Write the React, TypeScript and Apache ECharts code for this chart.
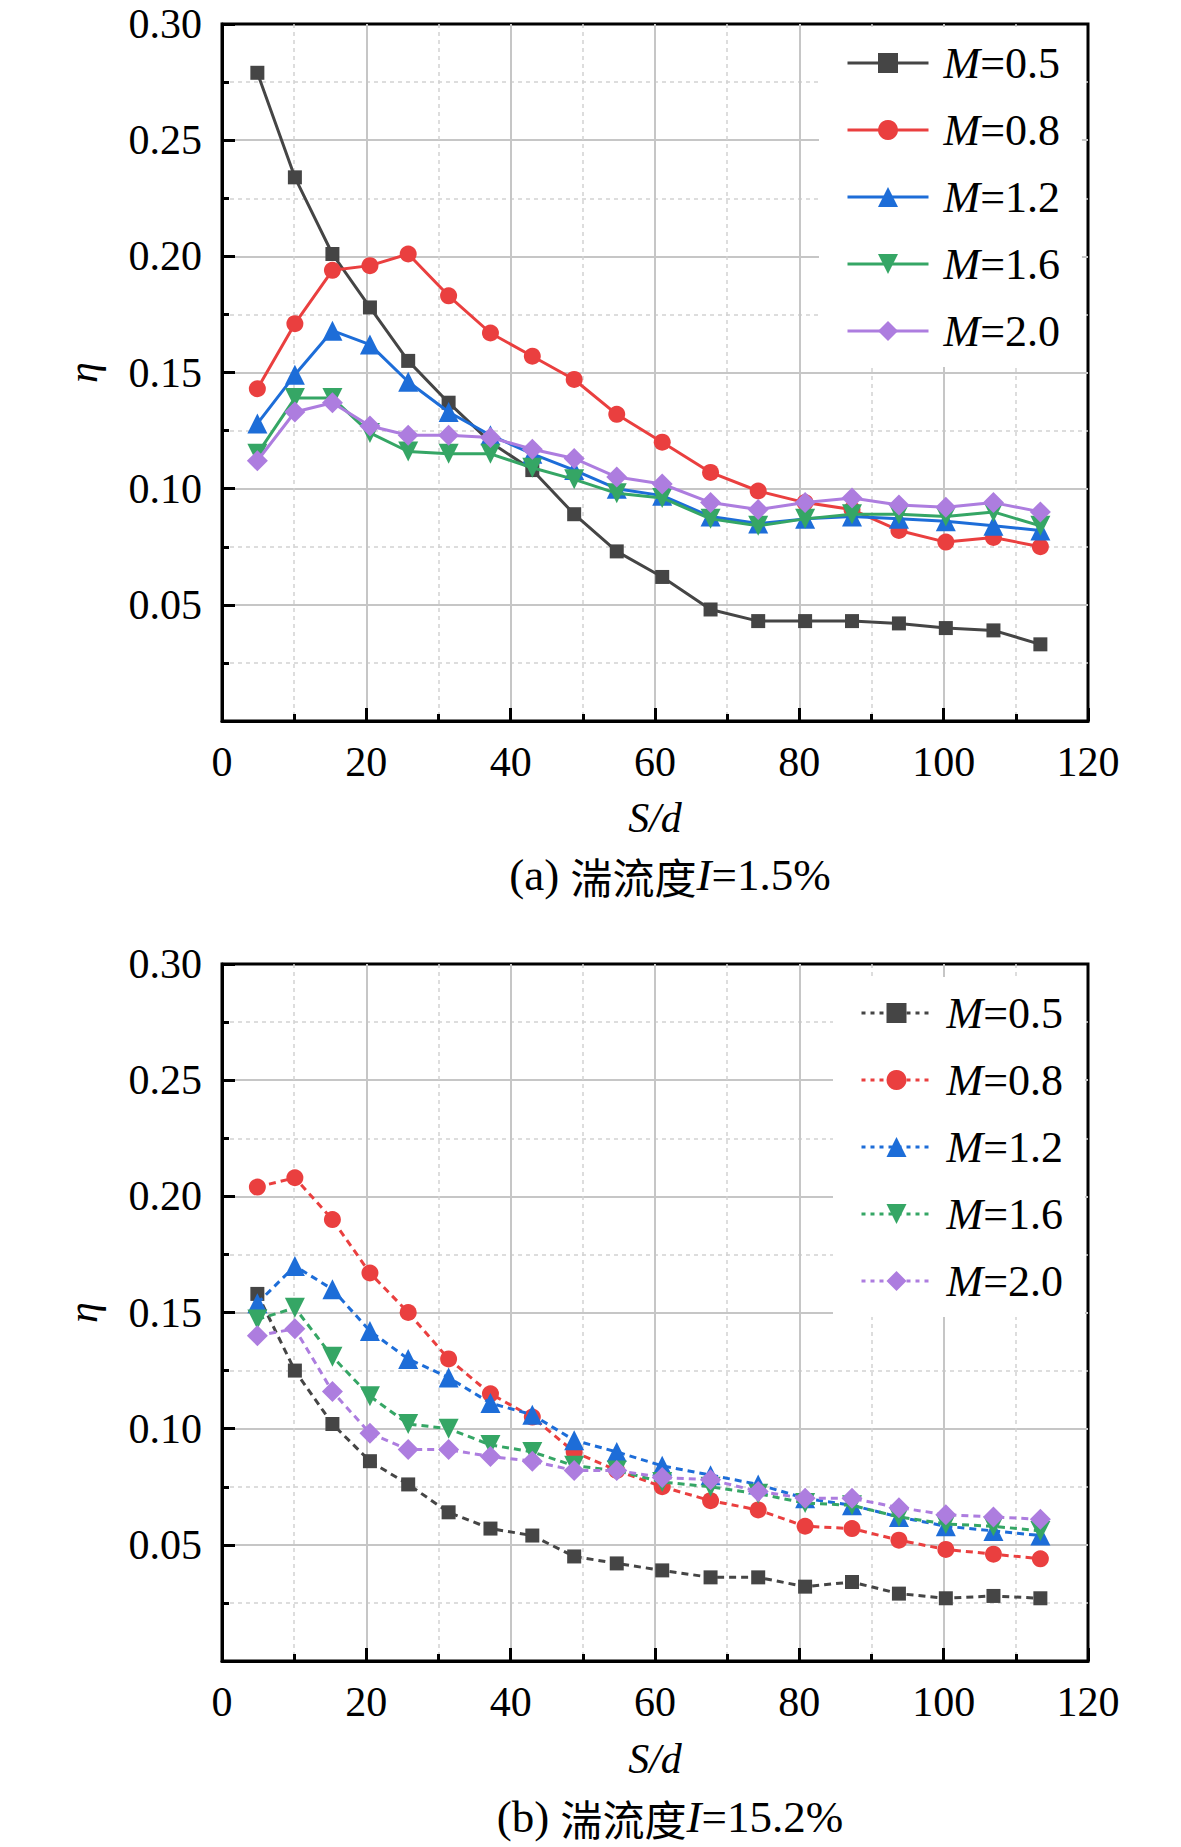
import React, { useEffect, useRef } from "react";
import * as echarts from "echarts";

// S/d positions (shared by both panels)
const SD = [4.9, 10.1, 15.3, 20.5, 25.8, 31.4, 37.2, 43.0, 48.8, 54.7, 61.0, 67.7, 74.3, 80.8, 87.3, 93.8, 100.3, 106.9, 113.4];

const M_VALUES = ["0.5", "0.8", "1.2", "1.6", "2.0"];

// Panel (a): I = 1.5%
const A_M05 = [0.279, 0.234, 0.201, 0.178, 0.155, 0.137, 0.120, 0.108, 0.089, 0.073, 0.062, 0.048, 0.043, 0.043, 0.043, 0.042, 0.040, 0.039, 0.033];
const A_M08 = [0.143, 0.171, 0.194, 0.196, 0.201, 0.183, 0.167, 0.157, 0.147, 0.132, 0.120, 0.107, 0.099, 0.094, 0.091, 0.082, 0.077, 0.079, 0.075];
const A_M12 = [0.128, 0.149, 0.168, 0.162, 0.146, 0.133, 0.123, 0.115, 0.108, 0.100, 0.097, 0.088, 0.085, 0.087, 0.088, 0.087, 0.086, 0.084, 0.082];
const A_M16 = [0.115, 0.139, 0.139, 0.124, 0.116, 0.115, 0.115, 0.109, 0.104, 0.098, 0.096, 0.087, 0.084, 0.087, 0.089, 0.089, 0.088, 0.090, 0.084];
const A_M20 = [0.112, 0.133, 0.137, 0.127, 0.123, 0.123, 0.122, 0.117, 0.113, 0.105, 0.102, 0.094, 0.091, 0.094, 0.096, 0.093, 0.092, 0.094, 0.090];

// Panel (b): I = 15.2%
const B_M05 = [0.158, 0.125, 0.102, 0.086, 0.076, 0.064, 0.057, 0.054, 0.045, 0.042, 0.039, 0.036, 0.036, 0.032, 0.034, 0.029, 0.027, 0.028, 0.027];
const B_M08 = [0.204, 0.208, 0.190, 0.167, 0.150, 0.130, 0.115, 0.105, 0.090, 0.082, 0.075, 0.069, 0.065, 0.058, 0.057, 0.052, 0.048, 0.046, 0.044];
const B_M12 = [0.154, 0.170, 0.160, 0.142, 0.130, 0.122, 0.111, 0.106, 0.095, 0.090, 0.084, 0.080, 0.076, 0.070, 0.067, 0.062, 0.058, 0.056, 0.054];
const B_M16 = [0.147, 0.152, 0.131, 0.114, 0.102, 0.100, 0.093, 0.090, 0.084, 0.082, 0.077, 0.075, 0.072, 0.068, 0.067, 0.062, 0.059, 0.058, 0.056];
const B_M20 = [0.140, 0.143, 0.116, 0.098, 0.091, 0.091, 0.088, 0.086, 0.082, 0.082, 0.079, 0.078, 0.073, 0.070, 0.070, 0.066, 0.063, 0.062, 0.061];

const A_SERIES = [A_M05, A_M08, A_M12, A_M16, A_M20];
const B_SERIES = [B_M05, B_M08, B_M12, B_M16, B_M20];

const X_MIN = 0;
const X_MAX = 120;
const X_STEP = 20;
const Y_MIN = 0;
const Y_MAX = 0.3;
const Y_STEP = 0.05;

const CAPTION_A = ["(a) ", "湍流度", "I", "=1.5%"];
const CAPTION_B = ["(b) ", "湍流度", "I", "=15.2%"];

const COLORS = ["#454545", "#ea3f3f", "#1d6dd8", "#35a665", "#ad7ddf"];
const SYMBOLS = ["rect", "circle", "triangle", "triangle", "diamond"];
const SYMBOL_ROTATE = [0, 0, 0, 180, 0];
const SYMBOL_SIZE = [14, 17, 20, 20, 21];

const SERIF = '"Liberation Serif", "Times New Roman", serif';
const CJK = '"Noto Sans CJK SC", sans-serif';

function makeAxes(gi: number, nameGap: number) {
  const x = {
    type: "value",
    gridIndex: gi,
    min: X_MIN,
    max: X_MAX,
    interval: X_STEP,
    axisLine: { show: true, onZero: false, lineStyle: { color: "#000", width: 3 } },
    axisTick: { show: true, inside: true, length: 13, lineStyle: { color: "#000", width: 3 } },
    minorTick: { show: true, splitNumber: 2, length: 7, lineStyle: { color: "#000", width: 3 } },
    splitLine: { show: true, showMinLine: false, showMaxLine: false, lineStyle: { color: "#c6c6c6", width: 2 } },
    minorSplitLine: { show: true, lineStyle: { color: "#d2d2d2", width: 1.5, type: [4, 4] } },
    axisLabel: { fontFamily: SERIF, fontSize: 42, color: "#000", margin: 20 },
    name: "S/d",
    nameLocation: "middle",
    nameGap,
    nameTextStyle: { fontFamily: SERIF, fontStyle: "italic", fontSize: 42, color: "#000" },
  };
  const y = {
    type: "value",
    gridIndex: gi,
    min: Y_MIN,
    max: Y_MAX,
    interval: Y_STEP,
    axisLine: { show: true, onZero: false, lineStyle: { color: "#000", width: 3 } },
    axisTick: { show: true, inside: true, length: 13, lineStyle: { color: "#000", width: 3 } },
    minorTick: { show: true, splitNumber: 2, length: 7, lineStyle: { color: "#000", width: 3 } },
    splitLine: { show: true, showMinLine: false, showMaxLine: false, lineStyle: { color: "#c6c6c6", width: 2 } },
    minorSplitLine: { show: true, lineStyle: { color: "#d2d2d2", width: 1.5, type: [4, 4] } },
    axisLabel: {
      fontFamily: SERIF,
      fontSize: 42,
      color: "#000",
      margin: 20,
      formatter: (v: number) => (v === 0 ? "" : v.toFixed(2)),
    },
    name: "η",
    nameLocation: "middle",
    nameGap: 118,
    nameTextStyle: { fontFamily: SERIF, fontStyle: "italic", fontSize: 42, color: "#000" },
  };
  return { x, y };
}

function makeSeries(gi: number, data: number[][], prefix: string, dashed: boolean) {
  return data.map((vals, i) => ({
    type: "line",
    name: `${prefix}M=${M_VALUES[i]}`,
    xAxisIndex: gi,
    yAxisIndex: gi,
    data: vals.map((v, k) => [SD[k], v]),
    symbol: SYMBOLS[i],
    symbolRotate: SYMBOL_ROTATE[i],
    symbolSize: SYMBOL_SIZE[i],
    showSymbol: true,
    color: COLORS[i],
    itemStyle: { color: COLORS[i] },
    lineStyle: { color: COLORS[i], width: 3, type: dashed ? [7, 5] : "solid" },
    z: 3 + i,
  }));
}

function makeLegend(prefix: string, left: number, top: number, itemWidth: number, dashed: boolean) {
  return {
    data: M_VALUES.map((m) => `${prefix}M=${m}`),
    orient: "vertical",
    left,
    top,
    padding: [14, 22, 14, 27],
    itemGap: 23,
    itemWidth,
    itemHeight: 25,
    backgroundColor: "#ffffff",
    selectedMode: false,
    lineStyle: { width: 3, type: dashed ? [4, 5] : "solid" },
    formatter: (name: string) => `{i|M}{n|=${name.split("=")[1]}}`,
    textStyle: {
      fontFamily: SERIF,
      fontSize: 44,
      color: "#000",
      padding: [0, 0, 0, 10],
      rich: {
        i: { fontFamily: SERIF, fontStyle: "italic", fontSize: 44, color: "#000" },
        n: { fontFamily: SERIF, fontSize: 44, color: "#000" },
      },
    },
    z: 20,
  };
}

function caption(parts: string[], x: number, y: number) {
  return {
    type: "text",
    x,
    y,
    z: 30,
    style: {
      text: `{a|${parts[0]}}{c|${parts[1]}}{i|${parts[2]}}{a|${parts[3]}}`,
      textAlign: "center",
      textVerticalAlign: "middle",
      fill: "#000",
      font: `45px ${SERIF}`,
      rich: {
        a: { fontFamily: SERIF, fontSize: 45, lineHeight: 42, fill: "#000", color: "#000" },
        c: { fontFamily: CJK, fontSize: 42, lineHeight: 42, fill: "#000", color: "#000" },
        i: { fontFamily: SERIF, fontStyle: "italic", fontSize: 45, lineHeight: 42, fill: "#000", color: "#000" },
      },
    },
  };
}

export default function App() {
  const ref = useRef<HTMLDivElement>(null);
  useEffect(() => {
    if (!ref.current) return;
    const chart = echarts.init(ref.current, null, { renderer: "svg" });
    const a = makeAxes(0, 76);
    const b = makeAxes(1, 77);
    chart.setOption({
      animation: false,
      backgroundColor: "#ffffff",
      grid: [
        { left: 222, top: 24, width: 866, height: 697, show: true, borderColor: "#000", borderWidth: 3, backgroundColor: "transparent" },
        { left: 222, top: 964, width: 866, height: 697, show: true, borderColor: "#000", borderWidth: 3, backgroundColor: "transparent" },
      ],
      xAxis: [a.x, b.x],
      yAxis: [a.y, b.y],
      legend: [makeLegend("", 819, 27, 81, false), makeLegend("(b)", 833, 977, 70, true)],
      series: [...makeSeries(0, A_SERIES, "", false), ...makeSeries(1, B_SERIES, "(b)", true)],
      graphic: [caption(CAPTION_A, 670, 875), caption(CAPTION_B, 670, 1817)],
    });
    return () => chart.dispose();
  }, []);
  return (
    <div
      ref={ref}
      style={{ position: "absolute", left: 0, top: 0, width: 1181, height: 1847, background: "#fff" }}
    />
  );
}
